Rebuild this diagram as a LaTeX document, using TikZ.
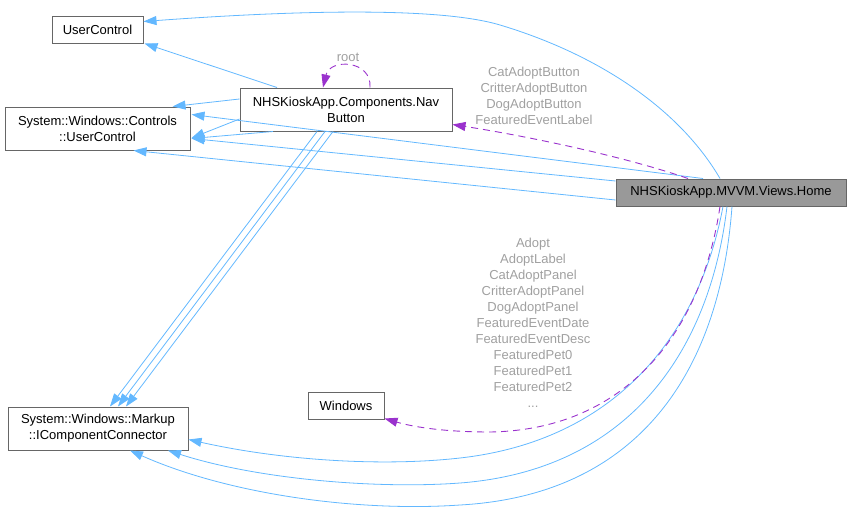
\documentclass[tikz,border=0pt]{standalone}
\usepackage{fontspec}
\setmainfont{Liberation Sans}
\usetikzlibrary{arrows.meta}
\definecolor{boxline}{RGB}{102,102,102}
\definecolor{homefill}{RGB}{153,153,153}
\definecolor{inherit}{RGB}{99,184,255}
\definecolor{usage}{RGB}{154,50,205}
\definecolor{labgray}{RGB}{160,160,160}
\tikzset{
  cls/.style={draw=boxline,fill=white,line width=1pt,inner sep=0pt,align=center,font=\fontsize{13}{16}\selectfont},
  cur/.style={cls,fill=homefill},
  elab/.style={inner sep=0pt,align=center,text=labgray,font=\fontsize{13}{16}\selectfont},
  isa/.style={draw=inherit,line width=0.8pt,-{Triangle[length=13pt,width=9pt]}},
  uses/.style={draw=usage,line width=0.9pt,dash pattern=on 7pt off 5pt,-{Triangle[length=13pt,width=9pt]}},
}
\begin{document}
\begin{tikzpicture}[x=1pt,y=-1pt]
  \useasboundingbox (0,0) rectangle (851,514);
  \node[cls,minimum width=91pt,minimum height=27pt] (uc) at (97.5,29.5) {UserControl};
  \node[cls,minimum width=185pt,minimum height=43pt] (suc) at (97.5,128.5) {System::Windows::Controls\\::UserControl};
  \node[cls,minimum width=212pt,minimum height=43pt] (nav) at (346,109.5) {NHSKioskApp.Components.Nav\\Button};
  \node[cur,minimum width=230pt,minimum height=27pt] (home) at (731,192.5) {NHSKioskApp.MVVM.Views.Home};
  \node[cls,minimum width=76pt,minimum height=27pt] (win) at (346,405.5) {Windows};
  \node[cls,minimum width=180pt,minimum height=43pt] (icc) at (98,428.5) {System::Windows::Markup\\::IComponentConnector};
  \draw[isa] ([xshift=-11pt]home.north) .. controls (680,110) and (600,55) .. (500,25) .. controls (440,7) and (300,10) .. ([yshift=8pt]uc.east);
  \draw[isa] ([xshift=-69pt]nav.north) -- ([xshift=1pt]uc.south east);
  \draw[isa] ([yshift=10.5pt]nav.west) -- ([xshift=75pt]suc.north);
  \draw[isa] ([yshift=-9.5pt]nav.west) -- ([yshift=-9.5pt,xshift=1pt]suc.east);
  \draw[isa] ([xshift=-73pt]nav.south) -- ([yshift=-10pt,xshift=1pt]suc.east);
  \draw[isa] ([xshift=-28pt]home.north) -- ([yshift=14pt,xshift=1pt]suc.east);
  \draw[isa] ([yshift=11.5pt]home.west) -- ([yshift=-10pt,xshift=1pt]suc.east);
  \draw[isa] ([yshift=-7.5pt]home.west) -- ([xshift=36pt]suc.south);
  \draw[isa] ([xshift=-29pt]nav.south) -- ([xshift=12pt]icc.north);
  \draw[isa] ([xshift=-21pt]nav.south) -- ([xshift=20pt]icc.north);
  \draw[isa] ([xshift=-13pt]nav.south) -- ([xshift=28pt]icc.north);
  \draw[isa] ([xshift=-8pt]home.south) .. controls (700,330) and (620,440) .. (460,458) .. controls (380,467) and (280,460) .. ([yshift=-11pt]icc.east);
  \draw[isa] ([xshift=-4pt]home.south) .. controls (710,350) and (630,470) .. (460,483) .. controls (380,489) and (260,480) .. ([xshift=70pt]icc.south);
  \draw[isa] ([xshift=1pt]home.south) .. controls (720,370) and (640,495) .. (460,505) .. controls (360,512) and (230,495) .. ([xshift=32pt]icc.south);
  \draw[uses] ([xshift=-43pt]home.north) .. controls (620,155) and (520,135) .. ([yshift=-15pt]nav.east);
  \draw[uses] ([xshift=-11pt]home.south) .. controls (700,340) and (620,430) .. (490,432) .. controls (440,432) and (410,426) .. ([yshift=-13pt]win.east);
  \draw[uses] ([xshift=24pt]nav.north) .. controls (372,60) and (330,58) .. ([xshift=-23pt]nav.north);
  \node[elab] (rootlbl) at (348,57) {root};
  \node[elab] (navlbl) at (534,96) {CatAdoptButton\\CritterAdoptButton\\DogAdoptButton\\FeaturedEventLabel};
  \node[elab] (winlbl) at (533,323) {Adopt\\AdoptLabel\\CatAdoptPanel\\CritterAdoptPanel\\DogAdoptPanel\\FeaturedEventDate\\FeaturedEventDesc\\FeaturedPet0\\FeaturedPet1\\FeaturedPet2\\...};
\end{tikzpicture}
\end{document}
